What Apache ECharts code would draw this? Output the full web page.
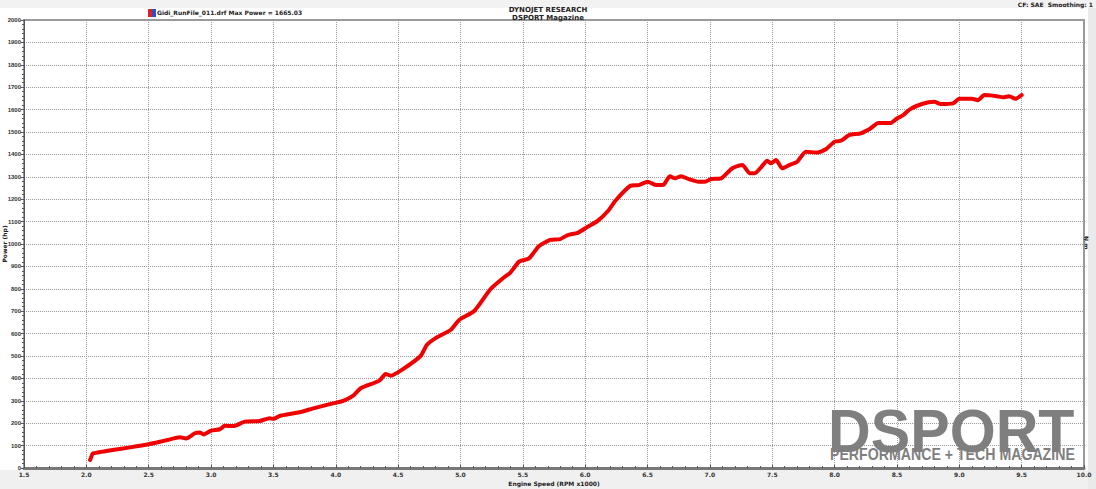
<!DOCTYPE html>
<html><head><meta charset="utf-8">
<script src="https://cdn.jsdelivr.net/npm/echarts@6/dist/echarts.min.js"></script>
<style>html,body{margin:0;padding:0;background:#fff}#c{width:1096px;height:489px}</style>
</head><body><div id="c"></div>
<script>
const rpm = [2.03,2.04,2.05,2.1,2.21,2.35,2.5,2.59,2.65,2.75,2.80,2.87,2.91,2.94,3.00,3.07,3.11,3.18,3.27,3.39,3.47,3.50,3.55,3.71,3.82,3.96,4.06,4.14,4.20,4.35,4.40,4.44,4.53,4.68,4.73,4.81,4.92,4.99,5.11,5.24,5.34,5.40,5.47,5.55,5.63,5.72,5.80,5.86,5.94,6.02,6.10,6.19,6.24,6.36,6.43,6.50,6.57,6.63,6.68,6.72,6.77,6.83,6.91,6.96,7.01,7.09,7.18,7.26,7.32,7.36,7.41,7.46,7.49,7.53,7.58,7.64,7.70,7.77,7.86,7.93,8.00,8.05,8.12,8.21,8.29,8.35,8.45,8.50,8.55,8.60,8.70,8.80,8.85,8.95,9.00,9.10,9.15,9.20,9.30,9.35,9.40,9.45,9.50];
const power = [36,50,64,70,80,92,106,117,125,137,132,155,159,150,167,173,189,187,207,210,222,219,232,249,266,286,300,323,356,390,420,412,438,500,549,583,616,661,701,798,847,872,921,936,991,1018,1022,1040,1050,1077,1103,1152,1192,1259,1263,1278,1263,1266,1303,1293,1303,1290,1278,1278,1290,1293,1338,1353,1316,1316,1342,1372,1360,1375,1338,1353,1367,1412,1408,1423,1457,1461,1487,1494,1517,1540,1540,1560,1575,1600,1625,1635,1625,1628,1648,1648,1642,1665,1660,1655,1660,1648,1665];
const titleLines = ["DYNOJET RESEARCH", "DSPORT Magazine"];
const seriesName = "Gidi_RunFile_011.drf Max Power = 1665.03";
const cornerNote = "CF: SAE  Smoothing: 1";
const xName = "Engine Speed (RPM x1000)";
const yName = "Power (hp)";
const rightName = "N.m";

const F = "DejaVu Sans";
const L = "Liberation Sans";
const chart = echarts.init(document.getElementById('c'), null, {renderer: 'svg'});
chart.setOption({
  backgroundColor: '#fff',
  animation: false,
  title: {
    text: titleLines.join('\n'), left: 'center', top: 1, itemGap: 0,
    textStyle: {fontFamily: F, fontSize: 7, fontWeight: 'bold', color: '#222', lineHeight: 8}
  },
  graphic: [
    {type: 'rect', shape: {x: 0, y: 470, width: 1096, height: 19}, style: {fill: '#f0f0f0'}, z: -10},
    {type: 'rect', shape: {x: 1088, y: 0, width: 8, height: 489}, style: {fill: '#eaeaea'}, z: -10},
    {type: 'rect', shape: {x: 0, y: 0, width: 1096, height: 8}, style: {fill: '#f2f2f2'}, z: -10},
    {type: 'rect', shape: {x: 148, y: 9, width: 4, height: 8}, style: {fill: '#e0202a'}},
    {type: 'rect', shape: {x: 152, y: 9, width: 4, height: 8}, style: {fill: '#3050c0'}},
    {type: 'text', left: 157, top: 9, style: {text: seriesName, font: 'bold 6px "DejaVu Sans"', fill: '#222'}},
    {type: 'text', right: 3, top: 1, style: {text: cornerNote, font: 'bold 6px "DejaVu Sans"', fill: '#222'}},
    {type: 'text', x: 1089, y: 236, rotation: -Math.PI/2, style: {text: rightName, font: 'bold 6px "DejaVu Sans"', fill: '#222'}},
    {type: 'text', x: 828, y: 401, style: {text: 'DSPORT', font: 'bold 61px "Liberation Sans"', fill: '#7f7f7f'}, scaleX: 0.97, z: 1},
    {type: 'text', x: 830, y: 446, style: {text: 'PERFORMANCE + TECH MAGAZINE', font: 'bold 16px "Liberation Sans"', fill: '#7f7f7f'}, scaleX: 0.885, z: 1}
  ],
  grid: {left: 24, right: 12, top: 20, bottom: 21, outerBoundsMode: 'none', containLabel: false, show: true, borderColor: '#9a9a9a', borderWidth: 2, backgroundColor: 'transparent'},
  xAxis: {
    type: 'value', min: 1.5, max: 10, interval: 0.5,
    name: xName, nameLocation: 'middle', nameGap: 12, nameMoveOverlap: false,
    nameTextStyle: {fontFamily: F, fontSize: 6, fontWeight: 'bold', color: '#222'},
    axisLine: {lineStyle: {color: '#777', width: 3}},
    axisTick: {show: true, length: 3, inside: true, lineStyle: {color: '#555'}},
    minorTick: {show: true, splitNumber: 5, length: 2, lineStyle: {color: '#555'}},
    axisLabel: {fontFamily: F, fontSize: 6, fontWeight: 'bold', color: '#333', margin: 3, formatter: v => v.toFixed(1)},
    splitLine: {show: true, lineStyle: {color: '#999', type: [1, 1], width: 1}}
  },
  yAxis: {
    type: 'value', min: 0, max: 2000, interval: 100,
    name: yName, nameLocation: 'middle', nameGap: 17, nameRotate: 90, nameMoveOverlap: false,
    nameTextStyle: {fontFamily: F, fontSize: 6, fontWeight: 'bold', color: '#222'},
    axisLine: {show: true, lineStyle: {color: '#555', width: 1}},
    axisTick: {show: true, length: 3, lineStyle: {color: '#555'}},
    minorTick: {show: true, splitNumber: 5, length: 2, lineStyle: {color: '#555'}},
    axisLabel: {fontFamily: L, fontSize: 6, fontWeight: 'bold', color: '#333', margin: 3, formatter: v => String(v)},
    splitLine: {show: true, lineStyle: {color: '#999', type: [1, 1], width: 1}}
  },
  series: [{
    type: 'line', name: seriesName, data: rpm.map((r, i) => [r, power[i]]),
    showSymbol: false, smooth: 0.2, z: 5,
    lineStyle: {color: '#f00000', width: 4, cap: 'round', join: 'round'}
  }]
});
</script></body></html>
